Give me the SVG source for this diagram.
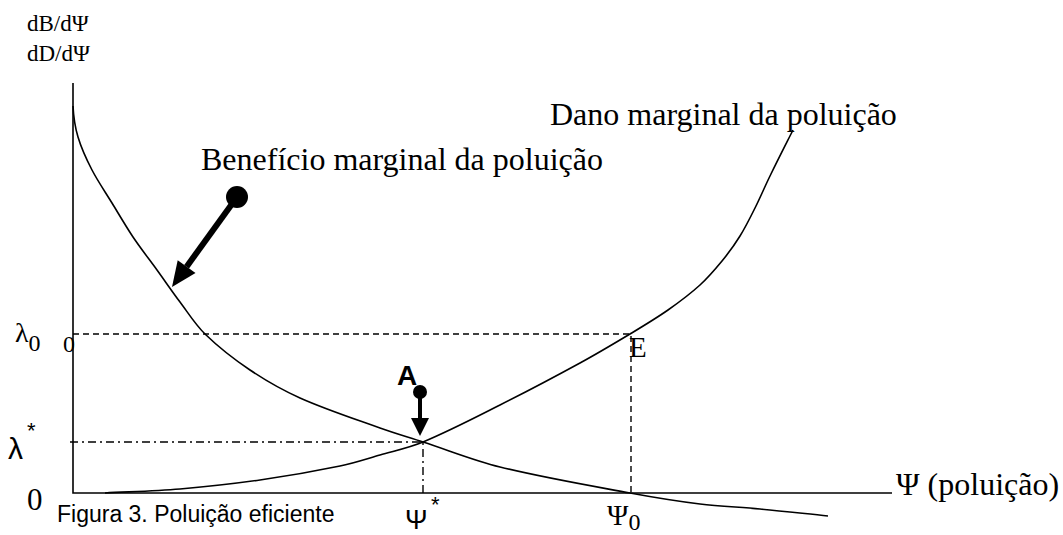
<svg xmlns="http://www.w3.org/2000/svg" width="1063" height="535" viewBox="0 0 1063 535">
<style>
.serif{font-family:"Liberation Serif","Times New Roman",serif;fill:#000}
.sans{font-family:"Liberation Sans",Arial,sans-serif;fill:#000}
.curve{fill:none;stroke:#000;stroke-width:1.6}
.axis{fill:none;stroke:#000;stroke-width:1.6}
.dash{fill:none;stroke:#000;stroke-width:1.4;stroke-dasharray:6 4}
.dashdot{fill:none;stroke:#000;stroke-width:1.4;stroke-dasharray:8 4 2 4}
</style>
<rect width="1063" height="535" fill="#fff"/>
<g id="labels-axes">
<text class="serif" x="27" y="30.5" font-size="23">dB/dΨ</text>
<text class="serif" x="27" y="61" font-size="23">dD/dΨ</text>
<text class="serif" x="63" y="352" font-size="24">0</text>
<text class="serif" x="15" y="342" font-size="28">λ<tspan font-size="24" dy="9">0</tspan></text>
<text class="sans" x="8" y="459" font-size="30">λ</text>
<text class="sans" x="27" y="438" font-size="22">*</text>
<text class="serif" x="27" y="510" font-size="31">0</text>
<text class="serif" x="896" y="495" font-size="32">Ψ (poluição)</text>
<text class="sans" x="405" y="529" font-size="27">Ψ</text>
<text class="sans" x="431" y="512" font-size="22">*</text>
<text class="serif" x="607" y="525" font-size="29">Ψ<tspan font-size="24" dy="5">0</tspan></text>
<text class="sans" x="57" y="522" font-size="23">Figura 3. Poluição eficiente</text>
</g>
<g id="connectors">
<path class="dash" d="M73,334 H631 V493"/>
<path class="dashdot" d="M70,442 H423 V493"/>
</g>
<g id="axes">
<path class="axis" d="M73,83 V493 H892"/>
</g>
<g id="benefit-curve">
<path class="curve" d="M73,106 C73.5,116.5 75,127 78,137 C81.4,148.4 86.5,159.4 92,170 C97.9,181.4 105.3,192 112,203 C119,214.4 125.6,225.9 133,237 C140.6,248.3 149,259 157,270 C164.7,280.6 172.1,291.5 180,302 C188.1,312.8 195.3,324.6 205,334 C218.8,347.4 234.1,359.3 250,370 C265.9,380.7 282.6,390.2 300,398 C326,409.6 353.2,418.4 380,428 C394.2,433.1 408.7,437.3 423,442 C448.7,450.3 473.8,460.5 500,467 C542.9,477.6 586.6,485 630,493 C653.2,497.3 676.6,501.1 700,504 C719.9,506.4 740,507.1 760,509 C782.7,511.1 805.3,513.7 828,516"/>
<text class="serif" x="201" y="170" font-size="32">Benefício marginal da poluição</text>
</g>
<g id="damage-curve">
<path class="curve" d="M105,493 C130,491.7 155,491.1 180,489 C206.7,486.7 233.4,483.8 260,480 C286.8,476.2 313.5,471.5 340,466 C353.5,463.2 366.7,458.8 380,455 C394.4,450.8 409.2,447.8 423,442 C449.3,431 474.6,417.8 500,405 C526.9,391.5 553.6,377.4 580,363 C596.9,353.8 613.5,343.9 630,334 C642.8,326.3 655.7,318.6 668,310 C679.1,302.2 690,294.1 700,285 C708,277.7 715.1,269.4 722,261 C728.5,253.1 734.6,244.7 740,236 C745.6,227 750.3,217.5 755,208 C760.3,197.5 764.8,186.6 770,176 C777.5,160.6 785.3,145.3 793,130"/>
<text class="serif" x="550" y="125" font-size="32">Dano marginal da poluição</text>
</g>
<g id="point-E">
<text class="serif" x="629" y="357" font-size="29">E</text>
</g>
<g id="pointer-benefit">
<circle cx="237" cy="197" r="11" fill="#000"/>
<line x1="237" y1="197" x2="186.6" y2="266.7" stroke="#000" stroke-width="6"/>
<polygon points="172,287 195.5,273.1 177.7,260.2" fill="#000"/>
</g>
<g id="point-A">
<text class="sans" x="397" y="385" font-size="28" font-weight="bold">A</text>
<circle cx="420" cy="392" r="7" fill="#000"/>
<line x1="420" y1="392" x2="420" y2="419" stroke="#000" stroke-width="4"/>
<polygon points="411,418 429,418 420,436" fill="#000"/>
</g>
</svg>
